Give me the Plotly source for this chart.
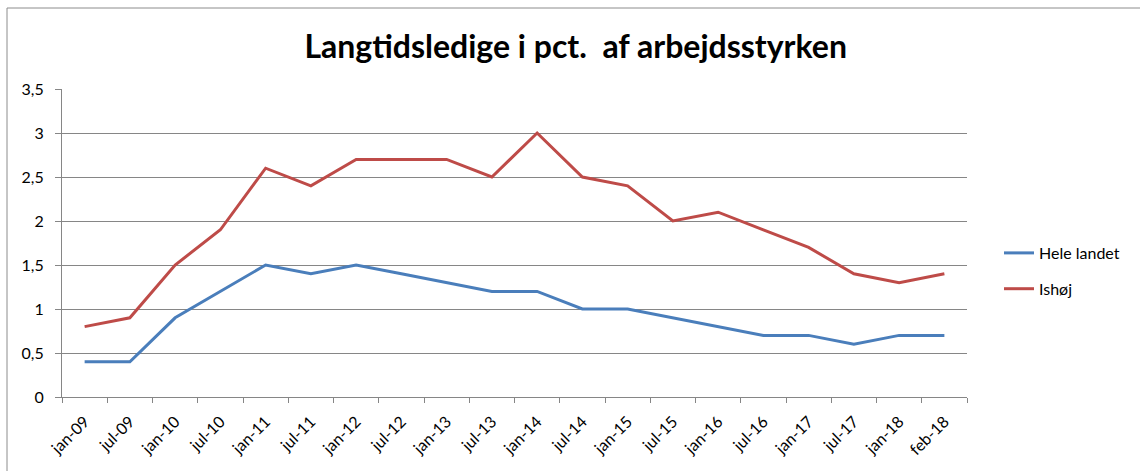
import plotly.graph_objects as go

categories = ["jan-09", "jul-09", "jan-10", "jul-10", "jan-11", "jul-11", "jan-12", "jul-12",
              "jan-13", "jul-13", "jan-14", "jul-14", "jan-15", "jul-15", "jan-16", "jul-16",
              "jan-17", "jul-17", "jan-18", "feb-18"]
hele_landet = [0.4, 0.4, 0.9, 1.2, 1.5, 1.4, 1.5, 1.4, 1.3, 1.2, 1.2, 1.0, 1.0, 0.9, 0.8, 0.7,
               0.7, 0.6, 0.7, 0.7]
ishoej = [0.8, 0.9, 1.5, 1.9, 2.6, 2.4, 2.7, 2.7, 2.7, 2.5, 3.0, 2.5, 2.4, 2.0, 2.1, 1.9,
          1.7, 1.4, 1.3, 1.4]
y_tickvals = [0, 0.5, 1, 1.5, 2, 2.5, 3, 3.5]
y_ticktext = ["0", "0,5", "1", "1,5", "2", "2,5", "3", "3,5"]

W, H = 1140, 471
L, R, T, B = 62, 173, 89, 74
pw, ph = W - L - R, H - T - B

fig = go.Figure()
fig.add_trace(go.Scatter(x=categories, y=hele_landet, mode="lines", name="Hele landet",
                         legendgroup="a", line=dict(color="#4A7EBB", width=3)))
fig.add_trace(go.Scatter(x=categories, y=ishoej, mode="lines", name="Ishøj",
                         legendgroup="b", line=dict(color="#BE4B48", width=3)))

font_family = "Lato, 'Open Sans', sans-serif"
fig.update_layout(
    width=W, height=H,
    margin=dict(l=L, r=R, t=T, b=B, pad=0),
    paper_bgcolor="white", plot_bgcolor="white",
    font=dict(family=font_family, size=15, color="black"),
    title=dict(text="<b>Langtidsledige i pct.  af arbejdsstyrken</b>", x=0.505, xanchor="center",
               y=1 - 47 / H, yanchor="middle", font=dict(size=32, family=font_family, color="black")),
    showlegend=True,
    legend=dict(x=(999 - L) / pw, xanchor="left", y=(397 - 271) / ph, yanchor="middle",
                font=dict(size=16), tracegroupgap=12, bgcolor="rgba(0,0,0,0)"),
    xaxis=dict(type="category", range=[-0.5, len(categories) - 0.5], showgrid=False,
               showline=True, linecolor="#868686", linewidth=1, ticks="outside",
               tickson="boundaries", ticklen=5, tickcolor="#868686", tickangle=-45,
               tickfont=dict(size=16), ticklabelstandoff=8, zeroline=False, automargin=False),
    yaxis=dict(range=[0, 3.5], tickvals=y_tickvals, ticktext=y_ticktext, showgrid=True,
               gridcolor="#868686", gridwidth=1, showline=True, linecolor="#868686",
               ticks="outside", ticklen=6, tickcolor="#868686", tickfont=dict(size=16),
               ticklabelstandoff=8, zeroline=False, automargin=False),
)

fig.add_shape(type="rect", xref="paper", yref="paper",
              x0=(7 - L) / pw, x1=(1146 - L) / pw, y0=(397 - 480) / ph, y1=(397 - 8) / ph,
              line=dict(color="#8c8c8c", width=1), fillcolor="rgba(0,0,0,0)", layer="below")

fig.write_html("out.html", config={"displayModeBar": False},
               post_script="document.body.style.margin='0';")
